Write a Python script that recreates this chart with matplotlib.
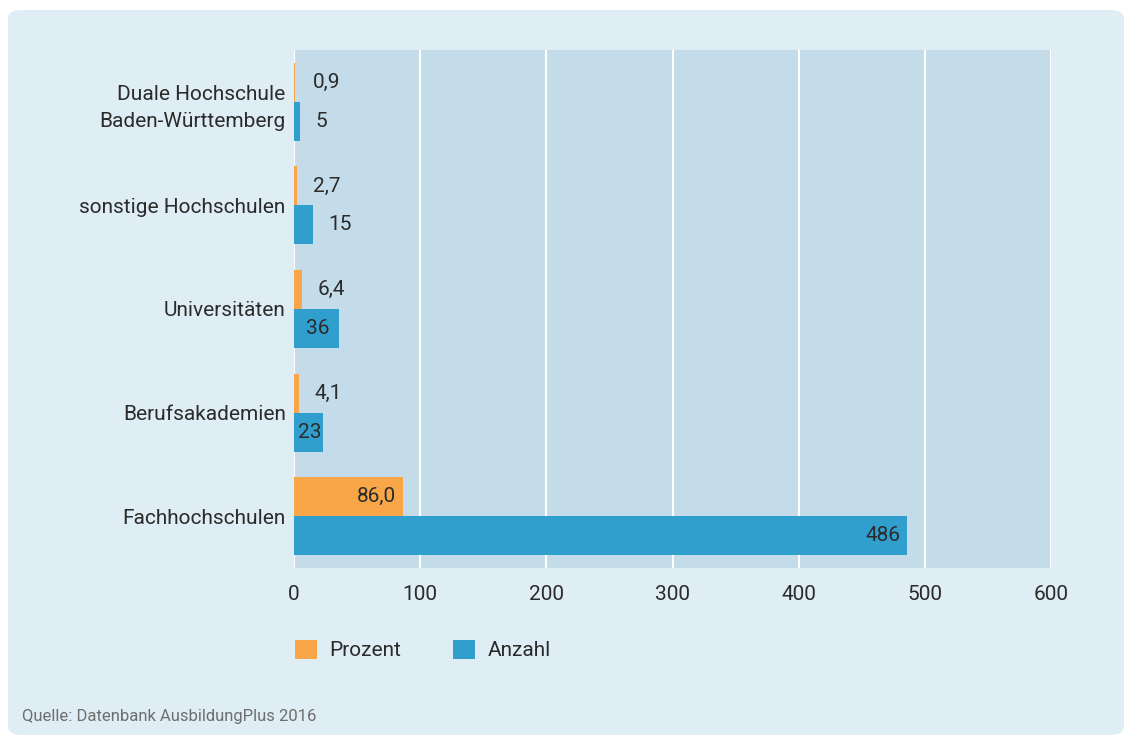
import matplotlib.pyplot as plt
from matplotlib.patches import FancyBboxPatch, Patch

plt.rcParams['font.family'] = ['Roboto', 'DejaVu Sans']

# daten
kategorien = ['Duale Hochschule\nBaden-Württemberg', 'sonstige Hochschulen',
              'Universitäten', 'Berufsakademien', 'Fachhochschulen']
prozent = [0.9, 2.7, 6.4, 4.1, 86.0]
anzahl = [5, 15, 36, 23, 486]
xticks = [0, 100, 200, 300, 400, 500, 600]

c_orange = '#f9a648'
c_blau = '#319fcd'
c_text = '#2b2b2b'
fs = 15

fig = plt.figure(figsize=(11.28, 7.35), dpi=100)
fig.patch.set_facecolor('white')
# hintergrund box
bg = FancyBboxPatch((8 / 1128, 0.0), 1116 / 1128, 1 - 10 / 735,
                    boxstyle='round,pad=0,rounding_size=0.012',
                    transform=fig.transFigure, facecolor='#dfedf5',
                    edgecolor='none', zorder=-10)
fig.patches.append(bg)

ax = fig.add_axes([294 / 1128, 1 - 568 / 735, 757 / 1128, 518 / 735])
ax.set_facecolor('#c4dcea')

y = list(range(len(kategorien)))
h = 0.376
y_o = [i - h / 2 for i in y]
y_b = [i + h / 2 for i in y]
ax.barh(y_o, prozent, height=h, color=c_orange, zorder=3)
ax.barh(y_b, anzahl, height=h, color=c_blau, zorder=3)

def beschriften(werte, ypos, fmt):
    for v, yy in zip(werte, ypos):
        s = fmt(v)
        if v < 20:
            ax.text(max(15, v + 12), yy, s, ha='left', va='center',
                    fontsize=fs, color=c_text, zorder=4)
        elif v < 40:
            ax.text(v / 2 + 1, yy, s, ha='center', va='center',
                    fontsize=fs, color=c_text, zorder=4)
        else:
            ax.text(v - 5.5, yy, s, ha='right', va='center',
                    fontsize=fs, color=c_text, zorder=4)

beschriften(prozent, y_o, lambda v: f'{v:.1f}'.replace('.', ','))
beschriften(anzahl, y_b, lambda v: str(v))

ax.set_xlim(0, 600)
ax.set_ylim(4.5, -0.5)
ax.set_xticks(xticks)
ax.set_yticks(y)
ax.set_yticklabels(kategorien, linespacing=1.55)
ax.tick_params(axis='both', length=0, labelsize=fs, labelcolor=c_text)
ax.tick_params(axis='x', pad=12)
ax.tick_params(axis='y', pad=6)
for s in ax.spines.values():
    s.set_visible(False)
ax.grid(axis='x', color='white', linewidth=1.5, zorder=1)
ax.set_axisbelow(True)

handles = [Patch(facecolor=c_orange, label='Prozent'),
           Patch(facecolor=c_blau, label='Anzahl')]
fig.legend(handles=handles, loc='center left',
           bbox_to_anchor=(295 / 1128, 1 - 650 / 735), ncol=2, frameon=False,
           fontsize=fs, handlelength=1.05, handleheight=1.05,
           borderpad=0, borderaxespad=0,
           columnspacing=2.5, handletextpad=0.6, labelcolor=c_text)

fig.text(22 / 1128, 1 - 717 / 735, 'Quelle: Datenbank AusbildungPlus 2016',
         fontsize=12, color='#6e6e6e', va='center', ha='left')

fig.savefig('out.png', dpi=100, facecolor=fig.get_facecolor())
